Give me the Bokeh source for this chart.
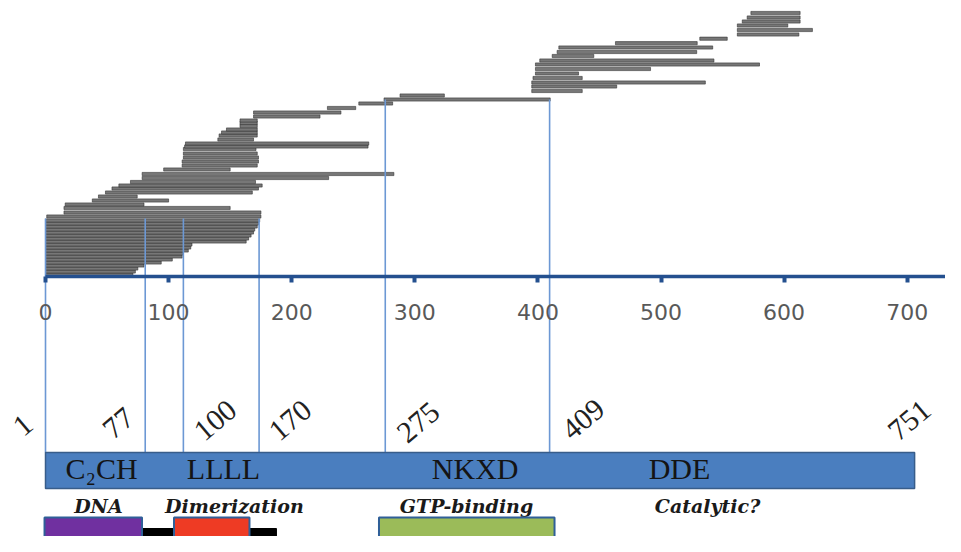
from bokeh.plotting import figure
from bokeh.models import Range1d, LinearAxis, FixedTicker, ColumnDataSource
from bokeh.core.properties import value
from bokeh.embed import file_html
from bokeh.resources import INLINE

# ---- sequenced fragments (start, end on the residue axis; stacking level) ----
frag_start = [0, 0, 0, 0, 0, 0, 0, 0, 0, 0, 0, 0, 0, 0, 0, 0, 0, 0, 0, 1, 15, 15, 16,
              38, 43, 48.7, 54, 59.6, 69, 78.5, 78.5, 96, 111, 111, 112, 112, 112, 113, 113.7,
              140, 141, 143, 147, 158, 158, 158, 169, 169, 229, 254.5, 275, 288,
              395, 395, 395, 396, 398, 398, 398, 401.5, 411.6, 415.6, 417, 463, 531.5,
              562, 562, 562, 566, 570, 573]
frag_end = [71, 73, 75, 80, 94, 103, 111, 112, 116, 118, 119, 163, 165, 167, 169, 170, 172, 173, 174, 175, 175, 150, 80,
            100, 74.5, 168, 173, 176, 170.6, 230, 283, 150, 172, 173, 173, 172, 171, 262, 262.6,
            169, 172, 172, 172, 172, 172, 172, 223, 240, 252, 282, 410, 324,
            436, 464, 536, 436, 433, 491.5, 580, 543, 445.4, 529, 542, 529.4, 553.8,
            612, 623, 603, 613, 613, 613]
frag_level = [3, 6, 9, 12, 15, 18, 21, 24, 27, 30, 33, 36, 39, 42, 45, 48, 51, 54, 57, 61, 65, 69.5, 73,
              77, 81, 85, 89, 92, 95.5, 99.5, 103.5, 108, 112, 116, 120, 124, 128.5, 131, 134,
              138, 142, 145, 148, 151.5, 154.5, 157, 161, 165, 169.5, 174, 178, 182,
              186.5, 191, 195, 199.5, 204, 208.5, 213, 217, 221.5, 225.5, 230, 234.3, 238.8,
              243, 247.5, 252, 256, 260, 264.5]

tick_values = [0, 100, 200, 300, 400, 500, 600, 700]

# ---- domain schematic ----
boundary_pos = [0, 81, 112, 173.5, 276, 409.5]
boundary_labels = ["1", "77", "100", "170", "275", "409", "751"]
protein_end = 706
motif_labels = ["C\u2082CH", "LLLL", "NKXD", "DDE"]
function_labels = ["DNA", "Dimerization", "GTP-binding", "Catalytic?"]

# layout (positions of annotations, in axis units)
boundary_top = [59, 59, 59, 59, 178, 178]
label_x = [-18.1, 59.3, 138.1, 199, 303, 437, 702]
label_y = [-148, -146, -143, -143, -145, -142, -143]
motif_x = [45.5, 144.6, 349, 515]
func_x = [43, 153.5, 342, 537.8]
box_left = [-0.8, 104.4, 270.9]
box_right = [78.4, 165.7, 413.5]
box_color = ["#7030A0", "#EE3B24", "#9BBB59"]
link_left = [78.4, 165.7]
link_right = [104.4, 187.6]

p = figure(width=945, height=536, x_range=Range1d(-36.56, 731.1), y_range=Range1d(-259, 277),
           output_backend="svg", toolbar_location=None, x_axis_type=None, y_axis_type=None,
           min_border=0)
p.outline_line_color = None
p.background_fill_color = "white"

src = ColumnDataSource(dict(start=frag_start, end=frag_end, lvl=frag_level))
p.hbar(y="lvl", left="start", right="end", height=3.2, fill_color="#777777",
       line_color="#333333", line_width=0.6, source=src)

p.segment(x0=boundary_pos, y0=boundary_top, x1=boundary_pos, y1=[-175] * len(boundary_pos),
          line_color="#6c98d4", line_width=1.6)

ax = LinearAxis(fixed_location=1, ticker=FixedTicker(ticks=tick_values), bounds=(0, 731.1))
ax.axis_line_color = "#24508f"
ax.axis_line_width = 3.5
ax.major_tick_line_color = "#24508f"
ax.major_tick_line_width = 4
ax.major_tick_in = 0
ax.major_tick_out = 6
ax.minor_tick_line_color = None
ax.major_label_text_font = "DejaVu Sans"
ax.major_label_text_font_size = "22px"
ax.major_label_text_color = "#595959"
ax.major_label_standoff = 21
p.add_layout(ax, "below")

# protein bar
p.quad(left=[0], right=[protein_end], top=[-175], bottom=[-211], fill_color="#4a7ebf",
       line_color="#385d8a", line_width=1.5)
p.text(x=motif_x, y=[-191] * 4, text=motif_labels, text_font=value("Liberation Serif"),
       text_font_size="30px", text_align="center", text_baseline="middle", text_color="#141414")

p.text(x=label_x, y=label_y, text=boundary_labels, angle=0.70, text_font=value("Liberation Serif"),
       text_font_size="30px", text_align="center", text_baseline="middle", text_color="#222222")

p.text(x=func_x, y=[-228] * 4, text=function_labels, text_font=value("DejaVu Serif"),
       text_font_style="bold italic", text_font_size="19px", text_align="center",
       text_baseline="middle", text_color="#1a1a1a")

p.quad(left=link_left, right=link_right, top=[-251, -251], bottom=[-260, -260],
       fill_color="black", line_color="black")
p.quad(left=box_left, right=box_right, top=[-240] * 3, bottom=[-272, -272, -285],
       fill_color=box_color, line_color="#2f5f98", line_width=2)

open("out.html", "w").write(file_html(p, INLINE))
